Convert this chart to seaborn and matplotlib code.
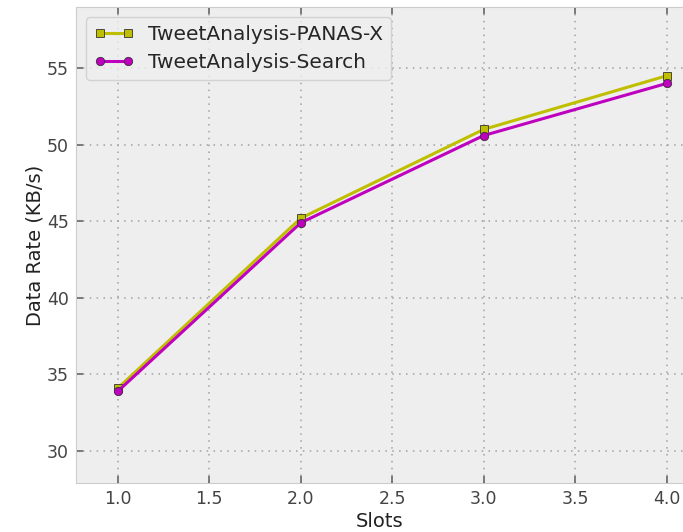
#!/usr/bin/env python
"""Data rate vs. slots for the two TweetAnalysis variants."""
import matplotlib
matplotlib.use('Agg')
import matplotlib.pyplot as plt
import seaborn as sb
import pandas as pd

slots = [1.0, 2.0, 3.0, 4.0]
panas_x = [34.1, 45.2, 51.0, 54.5]
search = [33.9, 44.9, 50.6, 54.0]
series_names = ['TweetAnalysis-PANAS-X', 'TweetAnalysis-Search']


def main():
    sb.set_style('whitegrid', {
        'axes.facecolor': '#eeeeee',
        'axes.edgecolor': '#bcbcbc',
        'grid.color': '#a0a0a0',
        'grid.linestyle': (0, (1, 3.5)),
        'xtick.direction': 'in',
        'ytick.direction': 'in',
    })
    plt.rcParams['font.family'] = ['DejaVu Sans']
    plt.rcParams['grid.linewidth'] = 1.1

    df = pd.DataFrame({
        'Slots': slots * 2,
        'rate': panas_x + search,
        'series': [series_names[0]] * len(slots) + [series_names[1]] * len(slots),
    })

    fig = plt.figure(figsize=(6.83, 5.32), dpi=100)
    ax = fig.add_axes([0.111, 0.092, 0.889, 0.895])

    colors = {series_names[0]: (0.75, 0.75, 0.0), series_names[1]: (0.75, 0.0, 0.75)}
    markers = {series_names[0]: 's', series_names[1]: 'o'}
    for name in series_names:
        sb.lineplot(data=df[df['series'] == name], x='Slots', y='rate',
                    color=colors[name], marker=markers[name], markersize=6,
                    markeredgecolor='#333333', markeredgewidth=0.6,
                    linewidth=2.2, label=name, ax=ax)

    ax.set_xlim(0.77, 4.09)
    ax.set_ylim(27.9, 59)
    ax.set_xticks([1.0, 1.5, 2.0, 2.5, 3.0, 3.5, 4.0])
    ax.set_yticks([30, 35, 40, 45, 50, 55])
    ax.tick_params(axis='both', which='both', length=5, width=1.2, color='#666666',
                   labelsize=12.5, labelcolor='#444444', top=True, right=False,
                   bottom=True, left=True, pad=5)
    ax.set_xlabel('Slots', fontsize=14, color='#222222', labelpad=3)
    ax.set_ylabel('Data Rate (KB/s)', fontsize=14, color='#222222', labelpad=2)
    for sp in ax.spines.values():
        sp.set_color('#cccccc')

    leg = ax.legend(loc='upper left', numpoints=2, fontsize=14.5,
                    frameon=True, fancybox=True, handlelength=2.0,
                    borderaxespad=0.5, handletextpad=0.7, labelspacing=0.45)
    leg.get_frame().set_facecolor('#eeeeee')
    leg.get_frame().set_edgecolor('#cccccc')

    fig.savefig('out.png', dpi=100)


if __name__ == "__main__":
    main()
